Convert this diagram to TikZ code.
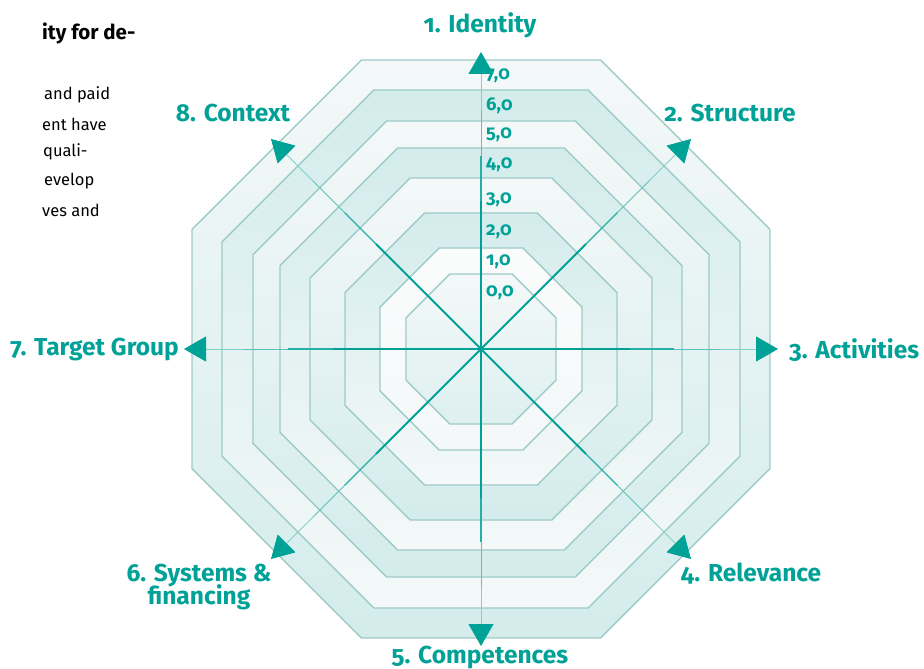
\documentclass[tikz,border=0pt]{standalone}
\usepackage{fontspec}
\setmainfont{Fira Sans}[Numbers=OldStyle]
\usetikzlibrary{arrows.meta,calc}
\definecolor{teal1}{HTML}{00A196}
\definecolor{edgec}{HTML}{9DCBC7}
\definecolor{lightc}{HTML}{F4F8F8}
\definecolor{tealc}{HTML}{D4ECEC}
\tikzset{
  ring/.style={draw=edgec, line width=1.4pt},
  ringA/.style={ring, top color=lightc, bottom color=tealc},
  ringB/.style={ring, top color=tealc, bottom color=lightc},
  ax1/.style={draw=teal1, line width=1.8pt},
  ax2/.style={draw=teal1!85, line width=1.4pt},
  ax3/.style={draw=teal1!65, line width=1.0pt},
  ax4/.style={draw=teal1!50, line width=0.8pt},
  axlabel/.style={text=teal1, font=\fontsize{24.5}{21}\selectfont\bfseries, inner sep=0pt},
  vallabel/.style={text=teal1, font=\fontsize{18.5}{20}\selectfont\bfseries, inner sep=0pt, anchor=west},
  bodytext/.style={text=black, font=\fontsize{16.5}{19}\selectfont, inner sep=0pt, anchor=west},
  headtext/.style={text=black, font=\fontsize{20.5}{24}\selectfont\bfseries, inner sep=0pt, anchor=west},
  tip/.style={-{Triangle[length=22pt,width=25pt,color=teal1]}}
}
\newcommand\octpath[1]{%
  ($(c)+(22.5:#1)$) -- ($(c)+(67.5:#1)$) -- ($(c)+(112.5:#1)$) -- ($(c)+(157.5:#1)$) --
  ($(c)+(202.5:#1)$) -- ($(c)+(247.5:#1)$) -- ($(c)+(292.5:#1)$) -- ($(c)+(337.5:#1)$) -- cycle}
\begin{document}
\begin{tikzpicture}[x=1pt,y=-1pt]
\useasboundingbox (0,0) rectangle (924,669);
\coordinate (c) at (481,349);
% octagons: circumradius = apothem * 1.082392
\shade[ringA] \octpath{312.8};
\shade[ringB] \octpath{280.3};
\shade[ringA] \octpath{246.8};
\shade[ringB] \octpath{217.6};
\shade[ringA] \octpath{185.1};
\shade[ringB] \octpath{147.2};
\shade[ring, top color=white!60!lightc, bottom color=lightc] \octpath{109.3};
\shade[ring, top color=lightc, bottom color=tealc!70!lightc] \octpath{81.2};
% axes
\foreach \n/\ang in {1/-90,2/-45,3/0,4/45,5/90,6/135,7/180,8/225}{
  \coordinate (a\n) at ($(c)+(\ang:297)$);
}
\foreach \n in {1,...,8}{
  \draw[ax1] (c) -- ($(c)!0.5!(a\n)$);
  \draw[ax2] ($(c)!0.5!(a\n)$) -- ($(c)!0.65!(a\n)$);
  \draw[ax3] ($(c)!0.65!(a\n)$) -- ($(c)!0.8!(a\n)$);
  \draw[ax4,tip] ($(c)!0.8!(a\n)$) -- (a\n);
}
% axis labels
\node[axlabel] (l1) at (480,25) {1. Identity};
\node[axlabel] (l2) at (730,113) {2. Structure};
\node[axlabel, anchor=west] (l3) at (789,350) {3. Activities};
\node[axlabel] (l4) at (751,574) {4. Relevance};
\node[axlabel] (l5) at (480,658) {5. Competences};
\node[axlabel, align=center] (l6) at (199,587) {6. Systems \&\\[-4pt] financing};
\node[axlabel, anchor=east] (l7) at (179,350) {7. Target Group};
\node[axlabel] (l8) at (233,113) {8. Context};
% value labels
\node[vallabel] (v7) at (486,76) {7,0};
\node[vallabel] (v6) at (486,106) {6,0};
\node[vallabel] (v5) at (486,135) {5,0};
\node[vallabel] (v4) at (486,165) {4,0};
\node[vallabel] (v3) at (486,200) {3,0};
\node[vallabel] (v2) at (486,232) {2,0};
\node[vallabel] (v1) at (486,262) {1,0};
\node[vallabel] (v0) at (486,293) {0,0};
% cut-off text on the left
\node[headtext] (h1) at (42,33) {ity for de-};
\node[bodytext] (b1) at (44,95) {and paid};
\node[bodytext] (b2) at (42,124) {ent have};
\node[bodytext] (b3) at (43,152) {quali-};
\node[bodytext] (b4) at (44,181) {evelop};
\node[bodytext] (b5) at (42,210) {ves and};
\end{tikzpicture}
\end{document}
